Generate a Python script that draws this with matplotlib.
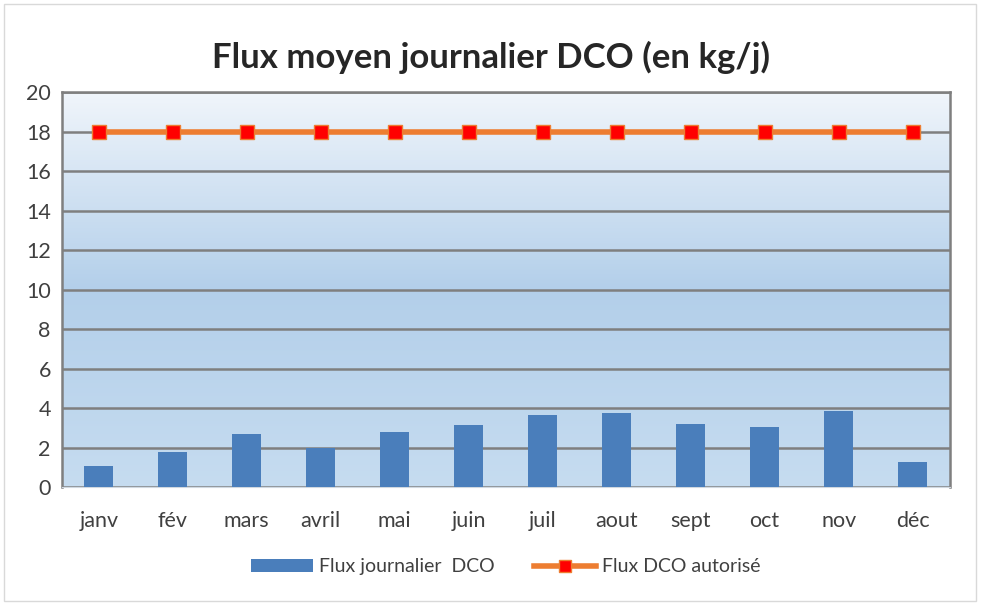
import numpy as np
import matplotlib
matplotlib.use("Agg")
import matplotlib.pyplot as plt
from matplotlib.colors import LinearSegmentedColormap
from matplotlib.patches import Rectangle

months = ["janv", "fév", "mars", "avril", "mai", "juin",
          "juil", "aout", "sept", "oct", "nov", "déc"]
flux_journalier = [1.06, 1.8, 2.67, 1.99, 2.8, 3.14, 3.66, 3.75, 3.2, 3.07, 3.85, 1.27]
flux_autorise = [18] * 12

plt.rcParams['font.family'] = ['Lato', 'DejaVu Sans']

fig = plt.figure(figsize=(9.82, 6.03), dpi=100)
ax = fig.add_axes([0.063, 0.192, 0.904, 0.655])

# background gradient of the plot area
cmap = LinearSegmentedColormap.from_list("bg", ["#c6dcf0", "#b3cfea", "#f0f5fb"])
grad = np.linspace(0, 1, 256).reshape(-1, 1)
ax.imshow(grad, aspect="auto", cmap=cmap, origin="lower",
          extent=[-0.5, 11.5, 0, 20], zorder=0)

x = np.arange(len(months))
bars = ax.bar(x, flux_journalier, width=0.39, color="#4a7ebb", zorder=3)
line, = ax.plot(x, flux_autorise, color="#ed7d31", lw=4, marker="s", markersize=10,
                markerfacecolor="#ff0000", markeredgecolor="#ed7d31", markeredgewidth=1,
                zorder=4)

ax.set_xlim(-0.5, 11.5)
ax.set_ylim(0, 20)
ax.set_yticks(range(0, 21, 2))
ax.set_xticks(x)
ax.set_xticklabels(months)
ax.yaxis.grid(True, color="#7f7f7f", lw=1.8, zorder=1)
ax.set_axisbelow(True)
ax.tick_params(length=0, labelsize=15.5, colors="#404040", pad=8)
ax.tick_params(axis="x", pad=17)
for s in ["left", "right", "top"]:
    ax.spines[s].set_color("#7f7f7f")
    ax.spines[s].set_linewidth(1.8)
ax.spines["bottom"].set_color("#d0d8e0")

fig.text(0.5, 0.905, "Flux moyen journalier DCO (en kg/j)", ha="center", va="center",
         fontsize=25, fontweight="bold", color="#262626")

fig.legend([bars, line], ["Flux journalier  DCO", "Flux DCO autorisé"],
           loc="center", bbox_to_anchor=(0.515, 0.06), ncol=2, frameon=False,
           fontsize=14, handlelength=3.2, handleheight=0.6, handletextpad=0.3,
           columnspacing=2, labelcolor="#404040", markerscale=0.8)

fig.patches.append(Rectangle((0.004, 0.004), 0.99, 0.99, transform=fig.transFigure,
                             fill=False, edgecolor="#d9d9d9", lw=1))

fig.savefig("out.png", dpi=100)
